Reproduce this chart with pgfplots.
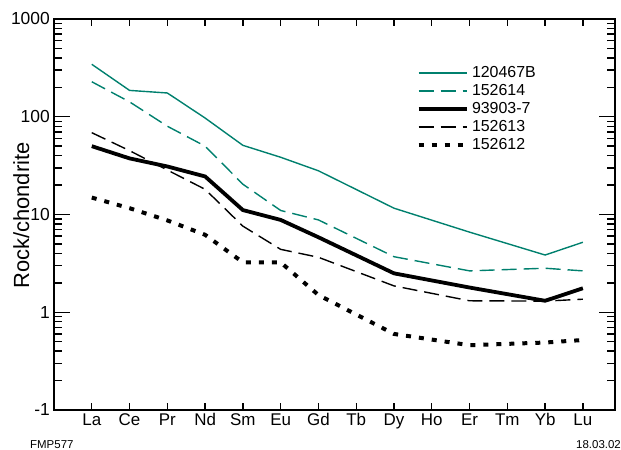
\documentclass[border=0pt]{standalone}
\usepackage{pgfplots}
\pgfplotsset{compat=1.18}
\usepackage{fontspec}
\setmainfont{Liberation Sans}
\definecolor{rockteal}{RGB}{0,128,110}
\begin{document}
\begin{tikzpicture}
\begin{axis}[
  at={(54bp,40bp)}, anchor=south west,
  scale only axis, width=561bp, height=391bp,
  clip=false,
  xmin=-1, xmax=13.85,
  ymode=log, ymin=0.1, ymax=1000,
  xtick={0,...,13},
  xticklabels={La,Ce,Pr,Nd,Sm,Eu,Gd,Tb,Dy,Ho,Er,Tm,Yb,Lu},
  ytick={0.1,1,10,100,1000},
  yticklabels={-1,1,10,100,1000},
  major tick length=0pt,
  minor tick length=0pt,
  tick style={draw=none},
  axis line style={line width=1.4bp},
  xticklabel style={font=\fontsize{17}{19}\selectfont},
  yticklabel style={font=\fontsize{17.5}{19}\selectfont, inner xsep=4bp},
  legend cell align=left,
  legend image code/.code={\draw[#1] (0bp,0bp) -- (48bp,0bp);},
  legend style={at={(rel axis cs:0.6462,0.8806)}, anchor=north west,
    draw=none, fill=none, inner sep=0pt, outer sep=0pt, row sep=3bp,
    font=\fontsize{16}{18}\selectfont,
    nodes={inner xsep=3.5bp, inner ysep=0pt, text height=12bp, text depth=3bp}},
]
\addplot[rockteal, line width=1.4bp] coordinates {
(0,344) (1,186) (2,175) (3,97) (4,51) (5,38.5) (6,28) (8,11.6) (10,6.6) (12,3.85) (13,5.2)};
\addlegendentry{120467B}
\addplot[rockteal, line width=1.4bp, dash pattern=on 15bp off 7bp] coordinates {
(0,228) (1,142) (2,80) (3,50) (4,20.4) (5,11) (6,8.8) (8,3.7) (10,2.65) (12,2.82) (13,2.65)};
\addlegendentry{152614}
\addplot[black, line width=3.8bp] coordinates {
(0,50) (1,37.5) (2,31) (3,24.5) (4,11.1) (5,8.8) (6,5.85) (8,2.5) (10,1.79) (12,1.31) (13,1.76)};
\addlegendentry{93903-7}
\addplot[black, line width=1.4bp, dash pattern=on 15bp off 7bp] coordinates {
(0,68.7) (1,45) (2,28.5) (3,18.1) (4,7.6) (5,4.4) (6,3.65) (8,1.86) (10,1.31) (12,1.30) (13,1.36)};
\addlegendentry{152613}
\addplot[black, line width=4bp, dash pattern=on 5bp off 8bp] coordinates {
(0,14.9) (1,11.6) (2,8.7) (3,6.2) (4,3.24) (5,3.24) (6,1.5) (8,0.6) (10,0.46) (12,0.49) (13,0.52)};
\addlegendentry{152612}
\end{axis}
% frame tick marks drawn as dashed strokes along the frame (axis decoration)
\begin{scope}[x=1bp, y=1bp, black]
% category ticks, bottom and top
\draw[line width=7bp, dash pattern=on 1.4bp off 36.378bp] (91.08,43.5) -- (583.7,43.5);
\draw[line width=7bp, dash pattern=on 1.4bp off 36.378bp] (91.08,427.5) -- (583.7,427.5);
% decade ticks, left and right
\draw[line width=16bp, dash pattern=on 1.4bp off 96.35bp] (62,39.3) -- (62,432.4);
\draw[line width=16bp, dash pattern=on 1.4bp off 96.35bp] (607,39.3) -- (607,432.4);
% minor ticks 2..9 in each decade
\foreach \d in {0,1,2,3} {
  \draw[line width=8bp, dash pattern=on 0bp off 28.726bp on 1.4bp off 15.813bp on 1.4bp off 10.812bp on 1.4bp off 8.073bp on 1.4bp off 6.34bp on 1.4bp off 5.145bp on 1.4bp off 4.268bp on 1.4bp off 3.6bp on 1.4bp off 10bp]
    (58,{40+\d*97.75}) -- (58,{40+\d*97.75+97.75});
  \draw[line width=8bp, dash pattern=on 0bp off 28.726bp on 1.4bp off 15.813bp on 1.4bp off 10.812bp on 1.4bp off 8.073bp on 1.4bp off 6.34bp on 1.4bp off 5.145bp on 1.4bp off 4.268bp on 1.4bp off 3.6bp on 1.4bp off 10bp]
    (611,{40+\d*97.75}) -- (611,{40+\d*97.75+97.75});
}
\end{scope}
\node[rotate=90, anchor=base, font=\fontsize{22}{24}\selectfont, inner sep=0pt] at (29bp,234.5bp) {Rock/chondrite};
\node[anchor=base west, font=\fontsize{11.5}{13}\selectfont, inner sep=0pt] at (30bp,2bp) {FMP577};
\node[anchor=base east, font=\fontsize{11.5}{13}\selectfont, inner sep=0pt] at (621bp,2bp) {18.03.02};
\useasboundingbox (0bp,0bp) rectangle (621bp,450bp);
\end{tikzpicture}
\end{document}
